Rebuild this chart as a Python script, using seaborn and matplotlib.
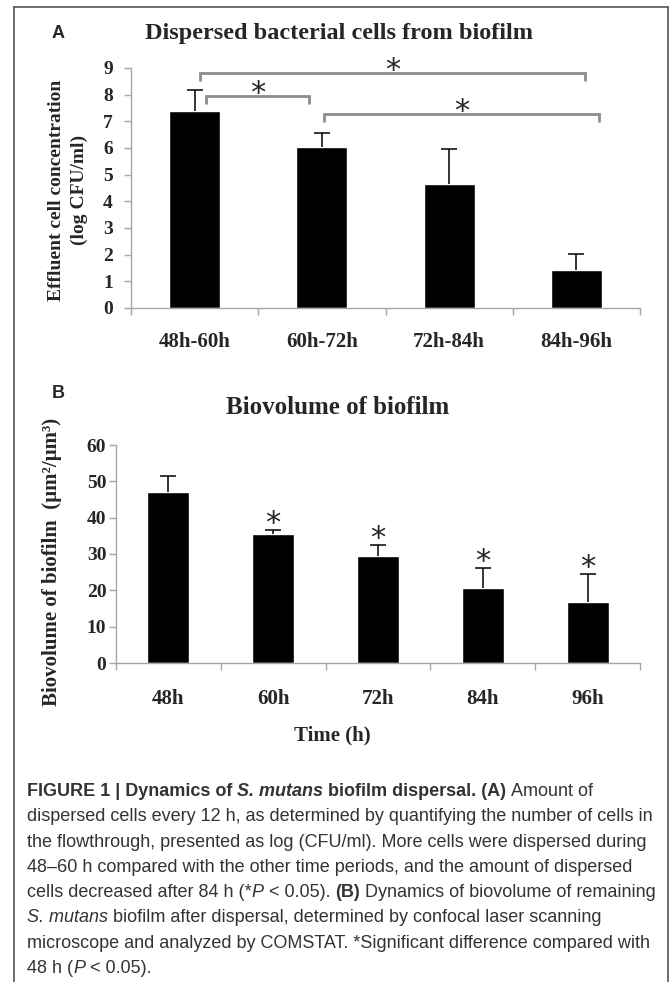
import matplotlib
matplotlib.use("Agg")
import numpy as np
import seaborn as sns
from matplotlib import pyplot as plt
from matplotlib.lines import Line2D

# panel A: dispersed cells per 12 h window
periods = ["48h-60h", "60h-72h", "72h-84h", "84h-96h"]
log_cfu = [7.37, 6.05, 4.65, 1.41]
log_cfu_err = [0.80, 0.52, 1.30, 0.60]

# significance brackets in panel A: (first bar, last bar) and bracket height
sig_pairs = [(0, 3), (0, 1), (1, 3)]
sig_heights = [8.82, 7.95, 7.29]

# panel B: remaining biovolume
times = ["48h", "60h", "72h", "84h", "96h"]
biovolume = [47.0, 35.4, 29.5, 20.6, 16.8]
biovolume_err = [4.5, 1.1, 2.9, 5.5, 7.7]
biovolume_sig = [False, True, True, True, True]

caption_lines = [
    [("FIGURE 1 | Dynamics of", "b"), (" S. mutans", "bi"), (" biofilm dispersal. (A)", "b"), (" Amount of", "n")],
    [("dispersed cells every 12 h, as determined by quantifying the number of cells in", "n")],
    [("the flowthrough, presented as log (CFU/ml). More cells were dispersed during", "n")],
    [("48\u201360 h compared with the other time periods, and the amount of dispersed", "n")],
    [("cells decreased after 84 h (*", "n"), ("P", "i"), (" < 0.05).", "n"), (" (B)", "b"),
     (" Dynamics of biovolume of remaining", "n")],
    [("S. mutans", "i"), (" biofilm after dispersal, determined by confocal laser scanning", "n")],
    [("microscope and analyzed by COMSTAT. *Significant difference compared with", "n")],
    [("48 h (", "n"), ("P", "i"), (" < 0.05).", "n")],
]

sns.set_theme(style="ticks")
plt.rcParams["font.family"] = ["Liberation Serif", "DejaVu Serif"]
plt.rcParams["font.weight"] = "bold"

W, H = 670, 982
AXIS_GREY = "#a6a6a6"
fig = plt.figure(figsize=(W / 100, H / 100), dpi=100)


def px_box(left, top, right, bottom):
    return [left / W, 1 - bottom / H, (right - left) / W, (bottom - top) / H]


def style_axis(ax, n, ymax, ystep, ylabel_pad, xlabel_pad):
    ax.set_xlim(-0.5, n - 0.5)
    ax.set_ylim(0, ymax)
    ax.set_yticks(np.arange(0, ymax + ystep / 2, ystep))
    ax.set_xticks(np.arange(-0.5, n), minor=True)
    ax.tick_params(axis="x", which="major", length=0, pad=xlabel_pad, labelsize=15)
    ax.tick_params(axis="x", which="minor", length=5, width=1, color=AXIS_GREY, direction="out")
    ax.tick_params(axis="y", length=5, width=1, color=AXIS_GREY, direction="out",
                   pad=ylabel_pad, labelsize=14)
    for lbl in ax.get_xticklabels() + ax.get_yticklabels():
        lbl.set_fontweight("bold")
    for side in ["top", "right"]:
        ax.spines[side].set_visible(False)
    for side in ["left", "bottom"]:
        ax.spines[side].set_color(AXIS_GREY)
        ax.spines[side].set_linewidth(1)
    ax.set_xlabel("")
    ax.set_ylabel("")


def upper_errorbars(ax, means, errs):
    x = np.arange(len(means))
    tops = np.array(means) + np.array(errs)
    ax.vlines(x, means, tops, color="black", lw=1.1)
    ax.plot(x, tops, ls="none", marker="_", ms=11, mew=1.1, color="black")


# ---- panel A ----
ax_a = fig.add_axes(px_box(131, 68, 640, 308))
sns.barplot(x=periods, y=log_cfu, color="black", saturation=1, width=0.4,
            errorbar=None, ax=ax_a)
upper_errorbars(ax_a, log_cfu, log_cfu_err)
style_axis(ax_a, len(periods), 9, 1, 8, 17)

nudges = [(0.04, 0.07), (0.09, -0.10), (0.02, 0.18)]
for (i, j), h, (di, dj) in zip(sig_pairs, sig_heights, nudges):
    x0, x1 = i + di, j + dj
    ax_a.plot([x0, x0, x1, x1], [h - 0.28, h, h, h - 0.28], color="#8c8c8c",
              lw=2, clip_on=False, solid_joinstyle="miter")
    ax_a.annotate("*", xy=((x0 + x1) / 2, h + 0.42), xytext=(0, -12.5),
                  textcoords="offset points", ha="center", va="baseline",
                  fontsize=22, family="DejaVu Sans", fontweight="normal",
                  annotation_clip=False)

fig.text(58 / W, 1 - 33 / H, "A", family="Liberation Sans", fontweight="bold",
         fontsize=13, ha="center", va="center")
fig.text(339 / W, 1 - 33 / H, "Dispersed bacterial cells from biofilm", fontsize=17.5,
         ha="center", va="center")
fig.text(68 / W, 1 - 190 / H, "Effluent cell concentration\n(log CFU/ml)", fontsize=14,
         rotation=90, ha="center", va="center", multialignment="center", linespacing=1.45)

# ---- panel B ----
ax_b = fig.add_axes(px_box(116, 445, 640, 663))
sns.barplot(x=times, y=biovolume, color="black", saturation=1, width=0.4,
            errorbar=None, ax=ax_b)
upper_errorbars(ax_b, biovolume, biovolume_err)
style_axis(ax_b, len(times), 60, 10, 2, 19)

for k, (m, e, s) in enumerate(zip(biovolume, biovolume_err, biovolume_sig)):
    if s:
        ax_b.annotate("*", xy=(k, m + e + 4.2), xytext=(0, -12.5),
                      textcoords="offset points", ha="center", va="baseline",
                      fontsize=22, family="DejaVu Sans", fontweight="normal")

fig.text(58 / W, 1 - 393 / H, "B", family="Liberation Sans", fontweight="bold",
         fontsize=13, ha="center", va="center")
fig.text(338 / W, 1 - 407 / H, "Biovolume of biofilm", fontsize=18, ha="center", va="center")
fig.text(52 / W, 1 - 562 / H, "Biovolume of biofilm  (\u00b5m\u00b2/\u00b5m\u00b3)", fontsize=15,
         rotation=90, ha="center", va="center")
fig.text(332 / W, 1 - 735 / H, "Time (h)", fontsize=15, ha="center", va="center")

# ---- frame around the figure ----
frame = dict(color="#555555", lw=1.2, transform=fig.transFigure)
fig.add_artist(Line2D([14 / W, 668 / W], [1 - 7 / H, 1 - 7 / H], **frame))
fig.add_artist(Line2D([14 / W, 14 / W], [1 - 7 / H, 0], **frame))
fig.add_artist(Line2D([668 / W, 668 / W], [1 - 7 / H, 0], **frame))

# ---- caption, drawn segment by segment ----
renderer = fig.canvas.get_renderer()
styles = {"n": ("normal", "normal"), "b": ("bold", "normal"),
          "i": ("normal", "italic"), "bi": ("bold", "italic")}
cap_kw = dict(family="Liberation Sans", fontsize=13, color="#333333", va="baseline")


def text_width(s, weight, style):
    t = fig.text(0, 0, s, fontweight=weight, fontstyle=style, **cap_kw)
    w = t.get_window_extent(renderer).width
    t.remove()
    return w


for n_line, segments in enumerate(caption_lines):
    x = 27.0
    y = 790 + 25.3 * n_line + 6
    for text, key in segments:
        weight, style = styles[key]
        if text.startswith(" "):
            x += text_width("x x", weight, style) - text_width("xx", weight, style)
            text = text[1:]
        t = fig.text(x / W, 1 - y / H, text, fontweight=weight, fontstyle=style, **cap_kw)
        x += t.get_window_extent(renderer).width

fig.savefig("out.png", dpi=100)
